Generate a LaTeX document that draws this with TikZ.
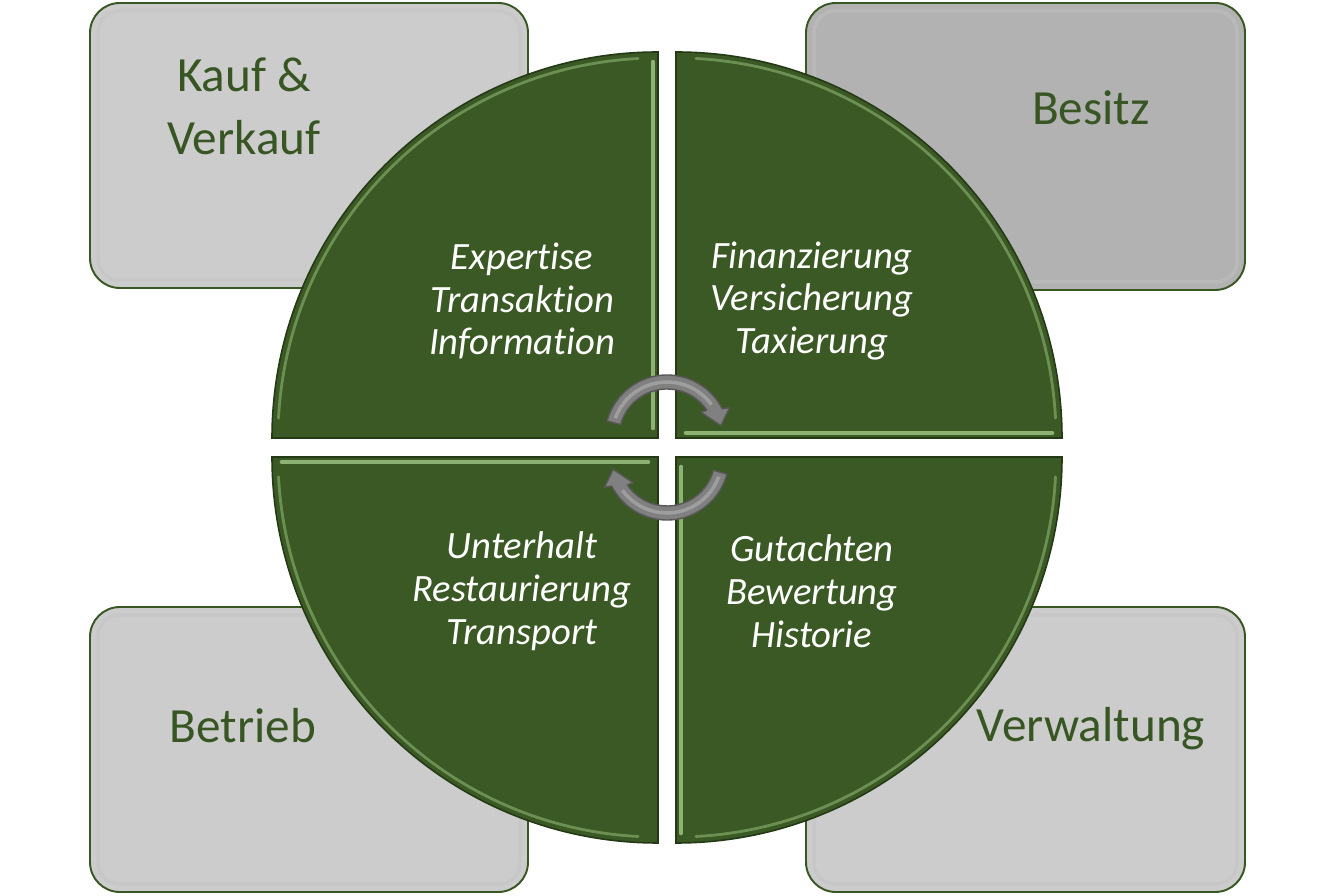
\documentclass[tikz,border=0pt]{standalone}
\usepackage{fontspec}
\setmainfont[Ligatures=CommonOff]{Carlito}
\usepackage{xcolor}
\usetikzlibrary{positioning}

\definecolor{panelgrey}{RGB}{204,204,204}
\definecolor{paneldark}{RGB}{178,178,178}
\definecolor{panelline}{RGB}{56,87,35}
\definecolor{paneltxt}{RGB}{55,86,35}
\definecolor{segfill}{RGB}{59,89,36}
\definecolor{segline}{RGB}{36,58,22}
\definecolor{seglight}{RGB}{169,209,142}
\definecolor{turnfill}{RGB}{128,128,128}
\definecolor{turnline}{RGB}{88,88,88}
\definecolor{turnlight}{RGB}{158,158,158}

\tikzset{
    quarter/.pic={
        \filldraw[segment] (0,0) -- (180:386) arc (180:90:386) -- cycle;
        \draw[bevel, line width=1.6pt, opacity=0.45] (177:380) arc (177:93:380);
        \draw[bevel, line width=2.6pt, opacity=0.75] (-5,10) -- (-5,376);
    },
    turn/.pic={
        \filldraw[turnarrow] (165:48) arc (165:34:48) -- (36:42) -- (12:55)
            -- (25:69) -- (27:62) arc (27:165:62) -- cycle;
        \draw[turnlight, line width=2pt] (160:55) arc (160:36:55);
    }
}

\begin{document}
\begin{tikzpicture}[
    x=0.02cm, y=0.02cm,
    panel/.style={
        draw=panelline, line width=1.1pt,
        rounded corners=17pt, fill=panelgrey
    },
    panelinner/.style={
        draw=black!22, line width=2pt, rounded corners=12pt
    },
    segment/.style={fill=segfill, draw=segline, line width=0.9pt},
    bevel/.style={draw=seglight, line cap=round},
    turnarrow/.style={fill=turnfill, draw=turnline, line width=0.8pt, line join=round},
    paneltext/.style={
        text=paneltxt, align=center,
        font=\fontsize{28}{35.7}\selectfont
    },
    segtext/.style={
        text=white, align=center,
        font=\fontsize{22}{24.4}\selectfont\itshape
    }
]
\fill[white] (0,0) rectangle (1334,895);
\useasboundingbox (0,0) rectangle (1334,895);

% outer panels
\draw[panel] (90,607) rectangle (528,892);
\draw[panel, fill=paneldark] (806,605) rectangle (1245,892);
\draw[panel] (90,3) rectangle (528,288);
\draw[panel] (806,3) rectangle (1245,288);
\draw[panelinner, draw=white!75!black, opacity=0.35] (98,615) rectangle (520,884);
\draw[panelinner, opacity=0.35] (814,613) rectangle (1237,884);
\draw[panelinner, draw=white!75!black, opacity=0.35] (98,11) rectangle (520,280);
\draw[panelinner, draw=white!75!black, opacity=0.35] (814,11) rectangle (1237,280);

\node[paneltext] (kauf) at (244,789) {Kauf \&\\Verkauf};
\node[paneltext, anchor=base] (besitz) at (1091,770) {Besitz};
\node[paneltext, anchor=base] (betrieb) at (243,152) {Betrieb};
\node[paneltext, anchor=base] (verwaltung) at (1091,153) {Verwaltung};

% circle quarters
\pic at (658,457) {quarter};
\pic[rotate=-90] at (676,457) {quarter};
\pic[rotate=180] at (676,438) {quarter};
\pic[rotate=90] at (658,438) {quarter};

\node[segtext] (expertise) at (522,594) {Expertise\\Transaktion\\Information};
\node[segtext] (finanz) at (812,594) {Finanzierung\\Versicherung\\Taxierung};
\node[segtext] (unterhalt) at (522,304) {Unterhalt\\Restaurierung\\Transport};
\node[segtext] (gutachten) at (812,304) {Gutachten\\Bewertung\\Historie};

% cycle arrows
\pic at (667,458) {turn};
\pic[rotate=180] at (667,437) {turn};
\end{tikzpicture}
\end{document}
